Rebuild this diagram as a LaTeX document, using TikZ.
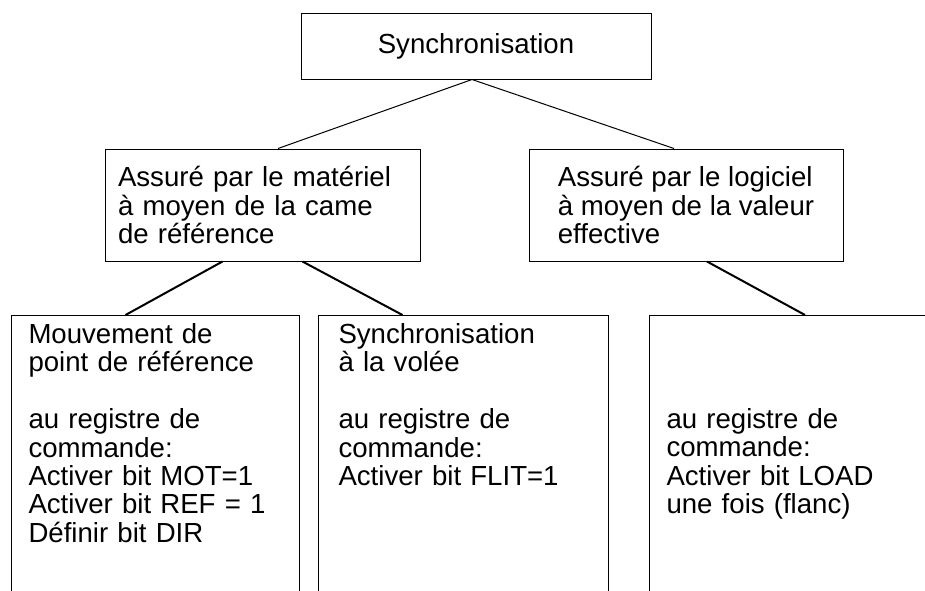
\documentclass[tikz,border=0pt]{standalone}
\usepackage{fontspec}
\setmainfont{Liberation Sans}

\begin{document}
\begin{tikzpicture}[x=0.5pt,y=-0.5pt,
    box/.style={draw,line width=0.5pt,rectangle,font=\fontsize{13.8pt}{14.2pt}\selectfont},
    midbox/.style={box,minimum height=56pt,align=left,inner ysep=0pt},
    lowbox/.style={box,anchor=north west,align=left,inner ysep=0pt,text depth=200pt},
    thinlink/.style={line width=0.5pt},
    thicklink/.style={line width=1pt}]
    \pgfmathsetmacro{\pagewidth}{925}
    \pgfmathsetmacro{\pageheight}{590}
    \pgfmathsetmacro{\lowtop}{315}
    \useasboundingbox (0,0) rectangle (\pagewidth,\pageheight);
    \clip (0,0) rectangle (\pagewidth,\pageheight);
    % top level
    \node[box,minimum width=175pt,minimum height=33pt] (sync) at (476,46) {Synchronisation};
    % second level
    \node[midbox,text width=144.5pt,inner xsep=6.5pt] (mat) at (262.5,205) {Assuré par le matériel\\à moyen de la came\\de référence};
    \node[midbox,minimum width=157pt,inner xsep=14pt] (log) at (686,205) {Assuré par le logiciel\\à moyen de la valeur\\effective};
    % third level, boxes run off the bottom
    \node[lowbox,text width=127pt,inner xsep=8.5pt,text height=14pt] (pref) at (11,\lowtop) {Mouvement de\\point de référence\\[14.2pt]au registre de\\commande:\\Activer bit MOT=1\\Activer bit REF = 1\\Définir bit DIR};
    \node[lowbox,text width=125pt,inner xsep=10pt,text height=14pt] (vol) at (318,\lowtop) {Synchronisation\\à la volée\\[14.2pt]au registre de\\commande:\\Activer bit FLIT=1};
    \node[lowbox,text width=150pt,inner xsep=8.5pt,text height=56.5pt] (load) at (649,\lowtop) {au registre de\\commande:\\Activer bit LOAD\\une fois (flanc)};
    % links
    \draw[thinlink] ([xshift=-2pt]sync.south) -- ([xshift=7.75pt]mat.north);
    \draw[thinlink] ([xshift=-2pt]sync.south) -- ([xshift=-6pt]log.north);
    \draw[thicklink] ([xshift=-20pt]mat.south) -- ([xshift=-15pt]pref.north);
    \draw[thicklink] ([xshift=20pt]mat.south) -- ([xshift=-30.5pt]vol.north);
    \draw[thicklink] ([xshift=10.5pt]log.south) -- ([xshift=78pt]load.north west);
\end{tikzpicture}
\end{document}
